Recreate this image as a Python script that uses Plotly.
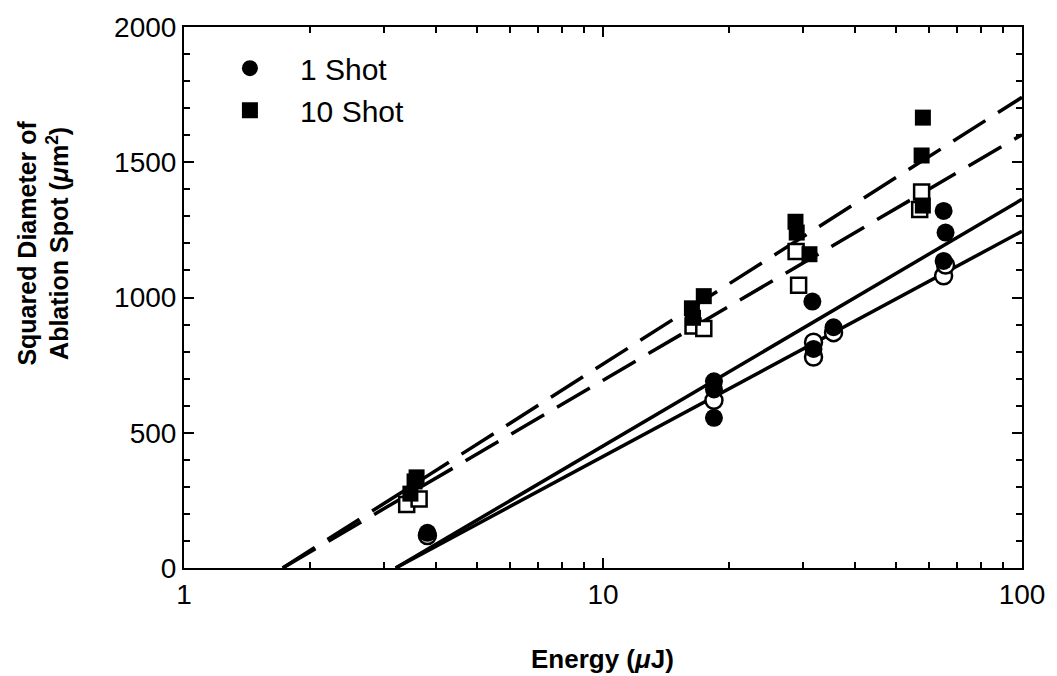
import plotly.graph_objects as go

# Energy (uJ) and squared crater diameter (um^2)
# 1 shot, filled circles
e1_filled = [3.81, 18.4, 18.4, 18.4, 31.6, 31.8, 35.5, 65.0, 65.7, 65.0]
d1_filled = [130, 690, 660, 555, 985, 810, 890, 1320, 1240, 1135]
# 1 shot, open circles
e1_open = [3.81, 18.4, 31.8, 31.8, 35.5, 65.0, 65.7]
d1_open = [120, 620, 835, 780, 870, 1080, 1120]
# 10 shot, filled squares
e10_filled = [3.47, 3.59, 3.55, 16.3, 16.4, 17.4, 28.8, 29.0, 31.1, 57.6, 58.0, 58.0]
d10_filled = [275, 335, 320, 960, 925, 1005, 1280, 1240, 1160, 1525, 1665, 1340]
# 10 shot, open squares
e10_open = [3.40, 3.64, 16.4, 17.4, 28.9, 29.3, 57.6, 57.0]
d10_open = [235, 255, 895, 885, 1170, 1045, 1390, 1325]

# Logarithmic fits (straight on a log energy axis): threshold point and value at 100 uJ
fit_10f_E, fit_10f_D = [1.72, 100], [0, 1740]
fit_10o_E, fit_10o_D = [1.72, 100], [0, 1602]
fit_1f_E, fit_1f_D = [3.2, 100], [0, 1363]
fit_1o_E, fit_1o_D = [3.2, 100], [0, 1245]

FONT = "Liberation Sans, Arial, sans-serif"
fig = go.Figure()

dash = "38px,15px"
for xs, ys, d in [(fit_10f_E, fit_10f_D, dash), (fit_10o_E, fit_10o_D, dash),
                  (fit_1f_E, fit_1f_D, "solid"), (fit_1o_E, fit_1o_D, "solid")]:
    fig.add_trace(go.Scatter(x=xs, y=ys, mode="lines", showlegend=False,
                             line=dict(color="black", width=3.5, dash=d), hoverinfo="skip"))

fig.add_trace(go.Scatter(x=e10_open, y=d10_open, mode="markers", showlegend=False,
                         marker=dict(symbol="square", size=15, color="white",
                                     line=dict(color="black", width=2.5))))
fig.add_trace(go.Scatter(x=e1_open, y=d1_open, mode="markers", showlegend=False,
                         marker=dict(symbol="circle", size=17, color="white",
                                     line=dict(color="black", width=2.5))))
fig.add_trace(go.Scatter(x=e1_filled, y=d1_filled, mode="markers", name="1 Shot",
                         marker=dict(symbol="circle", size=18, color="black")))
fig.add_trace(go.Scatter(x=e10_filled, y=d10_filled, mode="markers", name="10 Shot",
                         marker=dict(symbol="square", size=16, color="black")))

axis_common = dict(showline=True, linewidth=2, linecolor="black", mirror="ticks",
                   ticks="inside", ticklen=10, tickwidth=2, tickcolor="black",
                   showgrid=False, zeroline=False,
                   tickfont=dict(family=FONT, size=28, color="black"))

fig.update_xaxes(type="log", range=[0, 2], tickvals=[1, 10, 100], ticktext=["1", "10", "100"],
                 minor=dict(ticks="inside", ticklen=6, tickwidth=1.5, tickcolor="black",
                            dtick="D1", showgrid=False),
                 **axis_common)
fig.update_yaxes(range=[0, 2000], dtick=500,
                 minor=dict(ticks="inside", ticklen=6, tickwidth=1.5, tickcolor="black",
                            dtick=100, showgrid=False),
                 **axis_common)

fig.add_annotation(text="<b>Energy (<i>μ</i>J)</b>", xref="paper", yref="paper",
                   x=0.499, y=-0.168, xanchor="center", yanchor="middle", showarrow=False,
                   font=dict(family=FONT, size=26, color="black"))
fig.add_annotation(text="<b>Squared Diameter of<br>Ablation Spot (<i>μ</i>m<sup>2</sup>)</b>",
                   xref="paper", yref="paper", x=-0.168, y=0.6, textangle=-90,
                   xanchor="center", yanchor="middle",
                   showarrow=False, font=dict(family=FONT, size=25, color="black"))

fig.update_layout(
    width=1057, height=676,
    margin=dict(l=184, r=30, t=22, b=108),
    paper_bgcolor="white", plot_bgcolor="white",
    legend=dict(x=0.019, y=0.972, xanchor="left", yanchor="top", itemwidth=90,
                font=dict(family=FONT, size=30, color="black"),
                bgcolor="rgba(0,0,0,0)"),
)

fig.write_html("out.html")
